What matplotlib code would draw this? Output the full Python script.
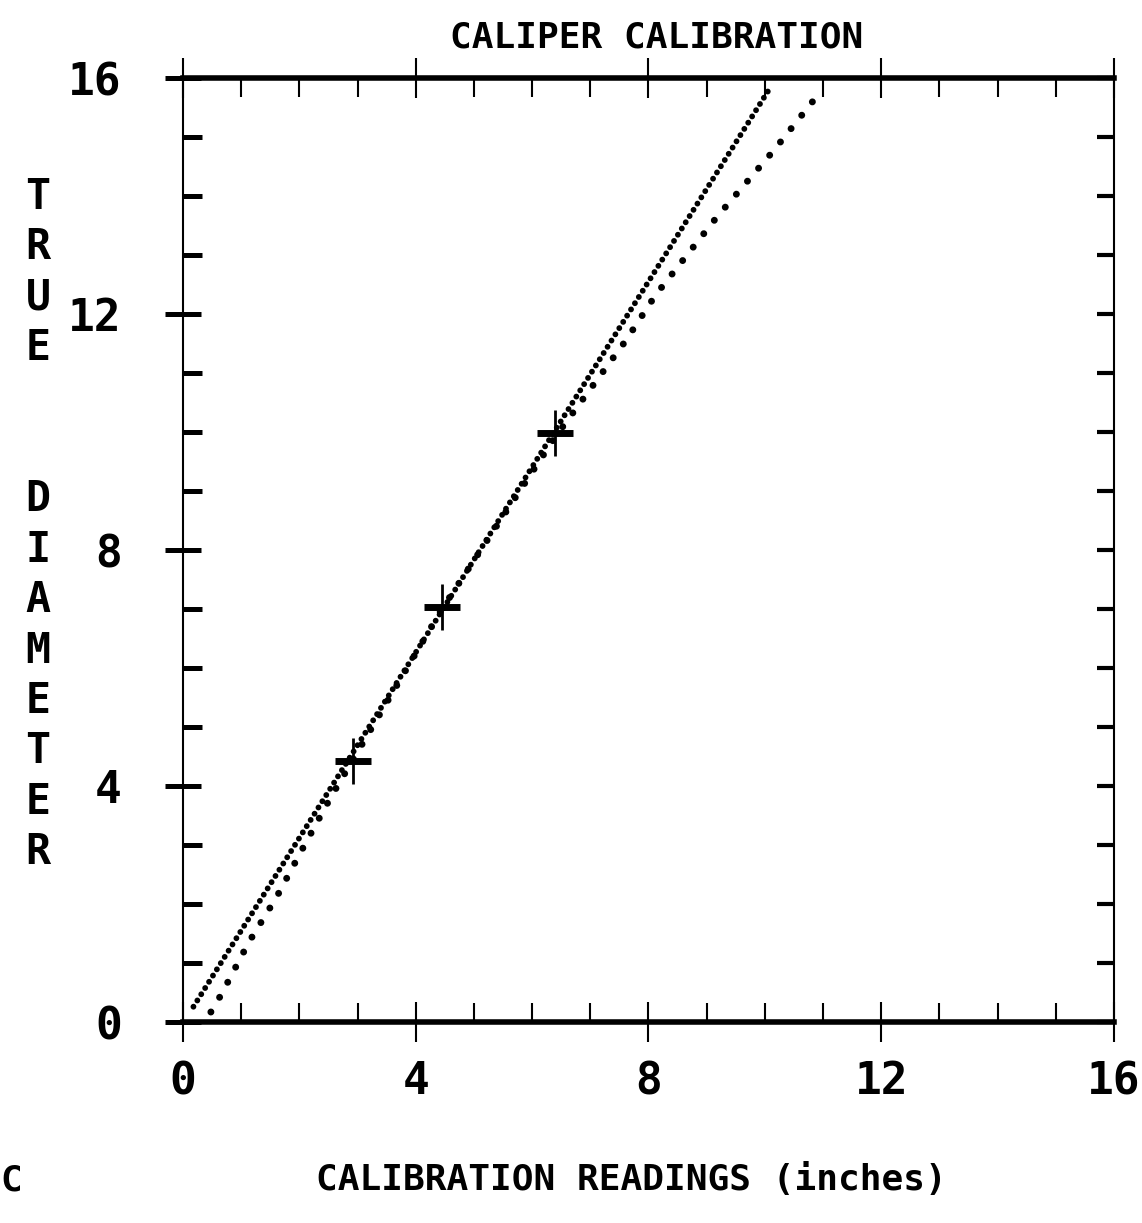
import matplotlib
matplotlib.use("Agg")
import matplotlib.pyplot as plt
from matplotlib.ticker import MultipleLocator

plt.rcParams["font.family"] = ["DejaVu Sans Mono"]
plt.rcParams["font.weight"] = "bold"

# calibration points: caliper reading vs true diameter (inches)
cal_readings = [2.92, 4.45, 6.40]
true_diameters = [4.42, 7.03, 9.98]

# straight fitted line (end points)
fit_x = [0.18, 10.10]
fit_y = [0.26, 15.85]

# dotted calibration curve
curve_x = [0.48, 0.66, 1.13, 1.61, 2.10, 2.54, 4.45, 6.40, 7.61, 8.12, 9.18, 10.15, 10.86]
curve_y = [0.17, 0.47, 1.35, 2.12, 3.02, 3.81, 7.00, 9.92, 11.55, 12.32, 13.65, 14.77, 15.65]

x_ticks = [0, 4, 8, 12, 16]
y_ticks = [0, 4, 8, 12, 16]
ylabel_letters = list("TRUE") + ["", ""] + list("DIAMETER")

fig = plt.figure(figsize=(11.42, 12.23), dpi=100)
ax = fig.add_axes([0.1602, 0.1643, 0.8153, 0.7719])

ax.plot(fit_x, fit_y, color="black", lw=4.2, linestyle=(0, (0.01, 1.25)),
        dash_capstyle="round")
ax.plot(curve_x, curve_y, color="black", lw=5.0, linestyle=(0, (0.01, 2.45)),
        dash_capstyle="round")
ax.plot(cal_readings, true_diameters, linestyle="none", marker="_",
        markersize=26, markeredgewidth=5, color="black")
ax.plot(cal_readings, true_diameters, linestyle="none", marker="|",
        markersize=33, markeredgewidth=2, color="black")

ax.set_xlim(0, 16)
ax.set_ylim(0, 16)
ax.set_xticks(x_ticks)
ax.set_yticks(y_ticks)
ax.xaxis.set_minor_locator(MultipleLocator(1))
ax.yaxis.set_minor_locator(MultipleLocator(1))

ax.spines["top"].set_linewidth(4)
ax.spines["bottom"].set_linewidth(4)
ax.spines["left"].set_linewidth(1.5)
ax.spines["right"].set_linewidth(1.5)

ax.tick_params(axis="x", which="major", direction="inout", length=29, width=1.5,
               top=True, bottom=True, labelsize=32, pad=13)
ax.tick_params(axis="x", which="minor", direction="in", length=14, width=1.5,
               top=True, bottom=True)
ax.tick_params(axis="y", which="major", direction="inout", length=26, width=3.6,
               left=True, right=False, labelsize=32, pad=31)
ax.tick_params(axis="y", which="minor", direction="in", length=14, width=3.6,
               left=True, right=False)

# right-hand ticks point inward only
ax2 = ax.twinx()
ax2.set_ylim(0, 16)
ax2.yaxis.set_major_locator(MultipleLocator(1))
ax2.tick_params(axis="y", direction="in", length=12, width=3, labelright=False)
for s in ax2.spines.values():
    s.set_visible(False)

fig.text(0.575, 0.969, "CALIPER CALIBRATION", fontsize=26, ha="center", va="center")
fig.text(0.553, 0.035, "CALIBRATION READINGS (inches)", fontsize=26,
         ha="center", va="center")
fig.text(0.0, 0.035, "C", fontsize=26, ha="left", va="center")

y0 = 197
for i, ch in enumerate(ylabel_letters):
    if ch:
        fig.text(0.0333, 1 - (y0 + i * 50.4) / 1223, ch, fontsize=30,
                 ha="center", va="center")

fig.savefig("out.png", dpi=100)
